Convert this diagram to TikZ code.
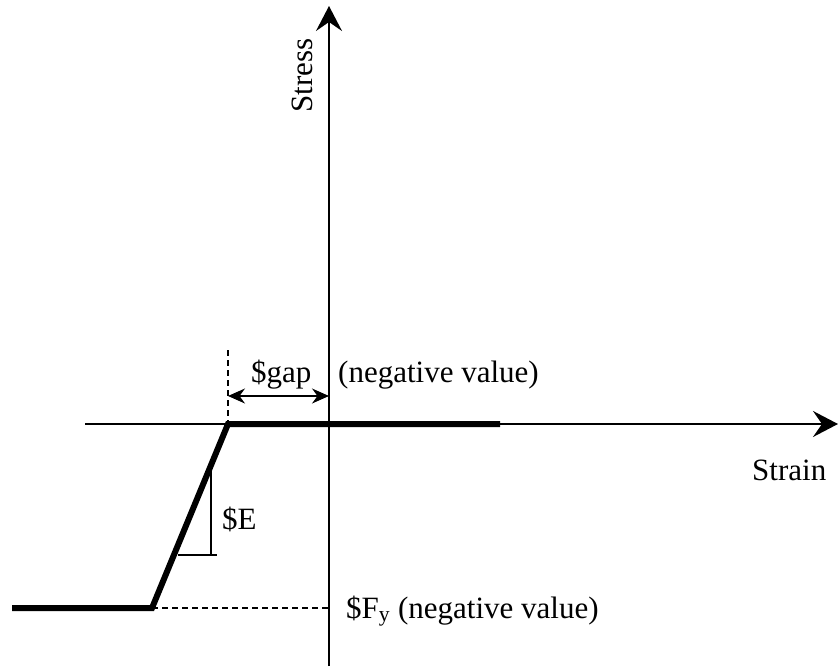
\documentclass[tikz,border=0pt]{standalone}
\usepackage{fontspec}
\setmainfont{Liberation Serif}
\usetikzlibrary{arrows.meta,positioning}
\begin{document}
\begin{tikzpicture}[x=1pt,y=-1pt,
    axis/.style={line width=1.7pt,-{Stealth[length=25pt,width=26pt,inset=9pt]}},
    law/.style={line width=6pt,line join=miter},
    thin/.style={line width=1.2pt},
    lbl/.style={font=\fontsize{31}{36}\selectfont,inner sep=0pt,anchor=base west}]
    \useasboundingbox (0,0) rectangle (838,669);

    % Achsen
    \coordinate (o) at (329,424);
    \coordinate (xs) at (85,424);
    \coordinate (xe) at (838,424);
    \coordinate (ys) at (329,666);
    \coordinate (ye) at (329,6);
    \draw[axis] (xs) -- (xe);
    \draw[axis] (ys) -- (ye);
    \node[lbl,rotate=90] (stress) at (312,113) {Stress};
    \node[lbl] (strain) at (752,480) {Strain};

    % Materialgesetz
    \coordinate (g) at (228,424);
    \coordinate (p) at (500,424);
    \coordinate (f) at (152,608);
    \coordinate (l) at (12,608);
    \draw[law] (p) -- (g) -- (f) -- (l);

    % Spalt
    \coordinate (gt) at (228,350);
    \draw[thin,dash pattern=on 6pt off 4pt] (gt) -- (g);
    \coordinate (ga) at (228,396);
    \coordinate (gb) at (329,396);
    \draw[thin,{Stealth[length=17pt,width=15pt]}-{Stealth[length=17pt,width=15pt]}] (ga) -- (gb);
    \node[lbl] (gap) at (251,382) {\$gap};
    \node[lbl] (gapneg) at (338,382) {(negative value)};

    % Steigung
    \coordinate (et) at (211,467);
    \coordinate (ec) at (211,555);
    \coordinate (eb) at (178,555);
    \coordinate (er) at (217,555);
    \draw[thin] (et) -- (ec);
    \draw[thin] (eb) -- (er);
    \node[lbl] (e) at (222,529) {\$E};

    % Fliessgrenze
    \draw[thin,dash pattern=on 6pt off 4pt] (f) -- (f -| o);
    \node[lbl] (fy) at (346,618) {\$F\textsubscript{y} (negative value)};
\end{tikzpicture}
\end{document}
